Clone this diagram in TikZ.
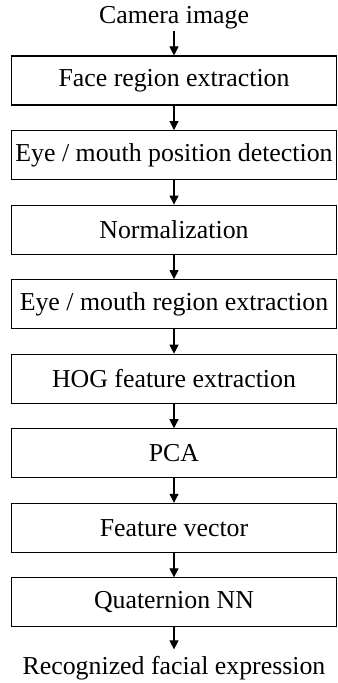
\documentclass[tikz,border=0pt]{standalone}
\usepackage{fontspec}
\setmainfont{Liberation Serif}
\usetikzlibrary{positioning}
\usetikzlibrary{arrows.meta}

\tikzset{
  stage/.style={draw, line width=0.6pt, minimum width=6.5cm,
                minimum height=0.98cm, inner sep=0pt},
  flow/.style={-{Triangle[length=0.18cm,width=0.18cm]}, line width=0.6pt}
}

\begin{document}
\begin{tikzpicture}[node distance=0.49cm, font=\fontsize{14.7}{17}\selectfont]
 \useasboundingbox (0,0) rectangle (6.76,-13.66);
 \node[stage] (face) at (3.48,-1.61) {Face region extraction};
 \node[stage, below=of face]   (eyepos) {Eye / mouth position detection};
 \node[stage, below=of eyepos] (norm)   {Normalization};
 \node[stage, below=of norm]   (eyereg) {Eye / mouth region extraction};
 \node[stage, below=of eyereg] (hog)    {HOG feature extraction};
 \node[stage, below=of hog]    (pca)    {PCA};
 \node[stage, below=of pca]    (feat)   {Feature vector};
 \node[stage, below=of feat]   (quat)   {Quaternion NN};
 \node[inner sep=1pt, above=0.48cm of face] (cam) {Camera image};
 \node[inner sep=4pt, below=0.44cm of quat] (result) {Recognized facial expression};

 \foreach \a/\b in {cam/face, face/eyepos, eyepos/norm, norm/eyereg,
                    eyereg/hog, hog/pca, pca/feat, feat/quat, quat/result}
   \draw[flow] (\a) -- (\b);
\end{tikzpicture}
\end{document}
